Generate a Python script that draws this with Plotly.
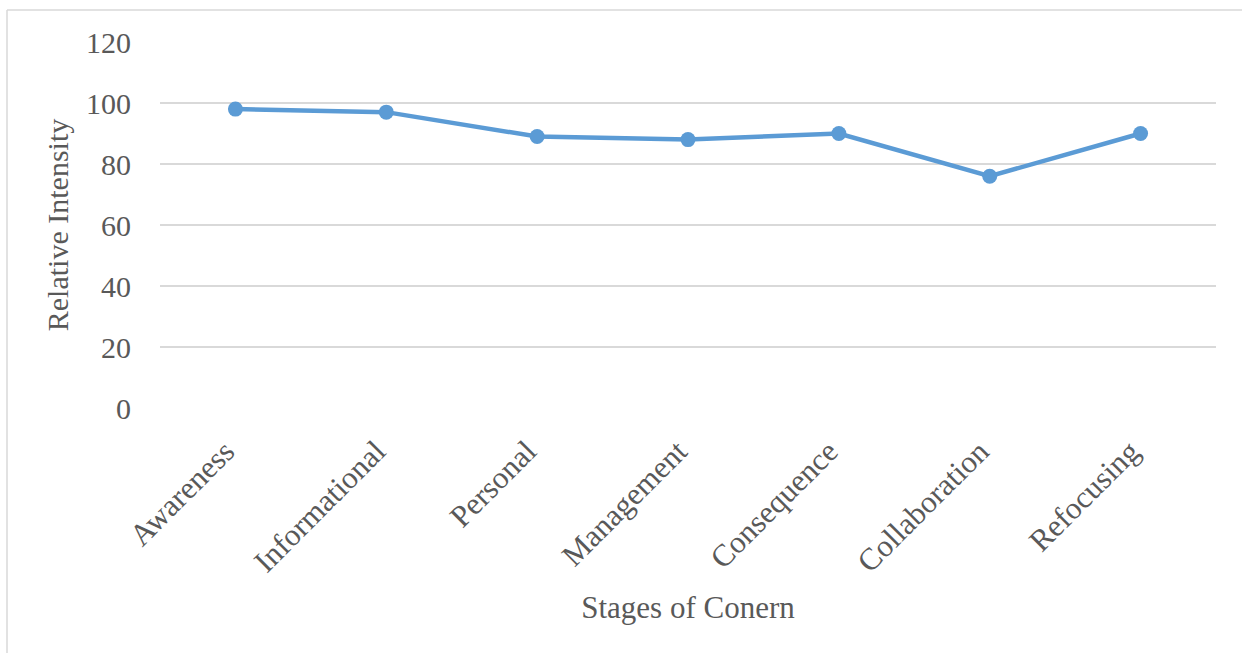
import plotly.graph_objects as go

stages = ["Awareness", "Informational", "Personal", "Management", "Consequence", "Collaboration", "Refocusing"]
intensity = [98, 97, 89, 88, 90, 76, 90]
y_ticks = [0, 20, 40, 60, 80, 100, 120]

L, R, T, B = 160, 26, 42, 245
W, H = 1242, 653
pw, ph = W - L - R, H - T - B

def px(x):
    return (x - L) / pw

def py(y):
    return (H - B - y) / ph

fig = go.Figure()
fig.add_trace(go.Scatter(
    x=stages, y=intensity, mode="lines+markers",
    line=dict(color="#5B9BD5", width=4.5),
    marker=dict(color="#5B9BD5", size=15),
    showlegend=False,
))

font_family = "Liberation Serif"
text_color = "#595959"

fig.update_layout(
    width=W, height=H,
    margin=dict(l=L, r=R, t=T, b=B),
    paper_bgcolor="white", plot_bgcolor="white",
    font=dict(family=font_family, color=text_color, size=30),
    xaxis=dict(
        range=[-0.5, len(stages) - 0.5],
        showgrid=False, showline=False, zeroline=False,
        tickangle=-45, tickfont=dict(size=31, color=text_color),
        ticklabelstandoff=18, ticklabelshift=-10,
        title=dict(text="Stages of Conern", font=dict(size=31, color=text_color), standoff=18),
    ),
    yaxis=dict(
        range=[0, 120], tickvals=y_ticks,
        showgrid=True, gridcolor="#D9D9D9", gridwidth=1.5,
        zeroline=False, showline=False,
        tickfont=dict(size=30, color=text_color),
        ticklabelstandoff=28,
        title=dict(text="Relative Intensity", font=dict(size=30, color=text_color), standoff=8),
    ),
    shapes=[
        dict(type="line", xref="paper", yref="paper", x0=px(7), x1=px(1250), y0=py(10), y1=py(10),
             line=dict(color="#D9D9D9", width=1.5), layer="below"),
        dict(type="line", xref="paper", yref="paper", x0=px(7), x1=px(7), y0=py(10), y1=py(660),
             line=dict(color="#D9D9D9", width=1.5), layer="below"),
    ],
)

fig.write_html("out.html", config={"displayModeBar": False},
               post_script="document.body.style.margin='0';")
